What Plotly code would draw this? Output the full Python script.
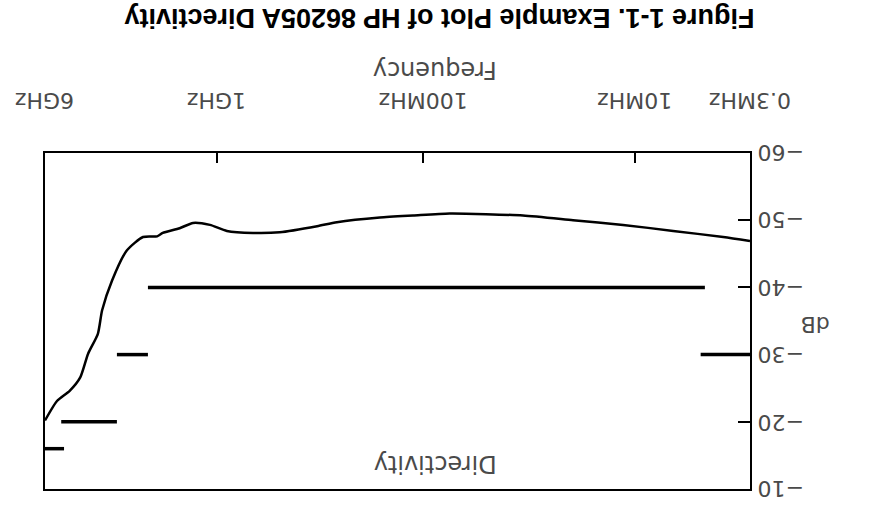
import plotly.graph_objects as go

# Directivity trace (sweep position 0 = 0.3 MHz ... 100 = 6 GHz), value in dB
sweep_pos = [100, 98.3, 96.5, 95.0, 93.9, 92.5, 91.9, 90.5, 88.4, 86.1, 84.1, 83.3,
             80.9, 79.0, 76.6, 74.2, 70.5, 66.7, 61.4, 58.6, 52.5, 47.8, 42.6, 32.2,
             25.1, 18.0, 10.9, 3.8, 0]
directivity_db = [-20.2, -23.1, -24.6, -26.6, -30.1, -33.1, -36.6, -41.0, -45.5, -47.5,
                  -47.6, -48.1, -48.8, -49.6, -49.3, -48.4, -48.1, -48.2, -49.1, -49.7,
                  -50.4, -50.7, -51.0, -50.7, -50.0, -49.3, -48.4, -47.5, -46.9]

# Specification limit segments
spec_start = [100, 97.7, 89.8, 85.4, 7.0]
spec_end = [97.3, 89.8, 85.4, 6.4, 0]
spec_db = [-16, -20, -30, -40, -30]

# Axis ticks
freq_tick_pos = [100, 75.6, 46.4, 16.3, 0]
freq_tick_text = ["6GHz", "1GHz", "100MHz", "10MHz", "0.3MHz"]
db_ticks = [-60, -50, -40, -30, -20, -10]

fig = go.Figure()

for xs, xe, v in zip(spec_start, spec_end, spec_db):
    fig.add_trace(go.Scatter(x=[xs, xe], y=[v, v], mode="lines",
                             line=dict(color="black", width=3.5),
                             showlegend=False, hoverinfo="skip"))

fig.add_trace(go.Scatter(x=sweep_pos, y=directivity_db, mode="lines",
                         line=dict(color="black", width=2.5, shape="spline", smoothing=0.6),
                         showlegend=False))

lab_font = dict(family="DejaVu Sans", size=22, color="#4a4a4a")
big_font = dict(family="DejaVu Sans", size=24, color="#4a4a4a")

annotations = [
    dict(text="<b>Figure 1-1. Example Plot of HP 86205A Directivity</b>",
         xref="paper", yref="paper", x=0.560, y=1.400, showarrow=False,
         textangle=180, xanchor="center", yanchor="middle", borderpad=0,
         font=dict(family="Liberation Sans", size=27, color="black")),
    dict(text="Frequency", xref="paper", yref="paper", x=0.553, y=1.247,
         showarrow=False, textangle=180, xanchor="center", yanchor="middle",
         font=big_font),
    dict(text="Directivity", xref="paper", yref="paper", x=0.553, y=0.074,
         showarrow=False, textangle=180, xanchor="center", yanchor="middle",
         font=big_font),
    dict(text="dB", xref="paper", yref="paper", x=1.092, y=0.488,
         showarrow=False, textangle=180, xanchor="center", yanchor="middle",
         font=lab_font),
]
# frequency tick labels (upside down, centred on their ticks)
for p, t in zip(freq_tick_pos, freq_tick_text):
    annotations.append(dict(text=t, xref="x", yref="paper", x=p, y=1.158,
                            showarrow=False, textangle=180, xanchor="center",
                            yanchor="middle", font=lab_font))
# dB tick labels
for v in db_ticks:
    txt = ("\u2212" if v < 0 else "") + str(abs(v))
    annotations.append(dict(text=txt, xref="paper", yref="y", x=1.044, y=v,
                            showarrow=False, textangle=180, xanchor="center",
                            yanchor="middle", font=lab_font))

fig.update_layout(
    width=883, height=508,
    margin=dict(l=45, r=133, t=153, b=19),
    paper_bgcolor="white", plot_bgcolor="white",
    xaxis=dict(range=[100, 0], side="top", showgrid=False, zeroline=False,
               showline=True, linecolor="black", linewidth=2, mirror=True,
               ticks="inside", ticklen=10, tickcolor="black", tickwidth=1.5,
               tickvals=freq_tick_pos, showticklabels=False),
    yaxis=dict(range=[-10, -60], side="right", showgrid=False, zeroline=False,
               showline=True, linecolor="black", linewidth=2, mirror=True,
               ticks="inside", ticklen=12, tickcolor="black", tickwidth=1.5,
               tickvals=db_ticks, showticklabels=False),
    annotations=annotations,
)

fig.write_html("out.html", config={"displayModeBar": False},
               post_script="document.body.style.margin='0';document.body.style.overflow='hidden';")
